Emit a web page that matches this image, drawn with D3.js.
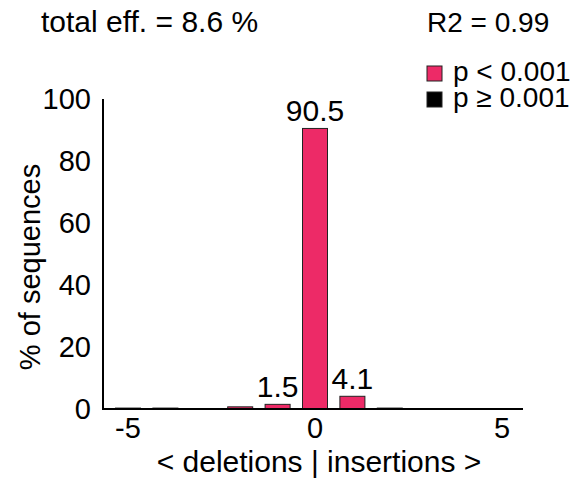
<!DOCTYPE html>
<html>
<head>
<meta charset="utf-8">
<script src="https://cdn.jsdelivr.net/npm/d3@7"></script>
<style>
  body { margin: 0; background: #fff; }
  text { font-family: "Liberation Sans", Arial, sans-serif; fill: #000; }
</style>
</head>
<body>
<div id="chart"></div>
<script>
// indel sizes and % of sequences
var sizes = [-5, -4, -3, -2, -1, 0, 1, 2, 3, 4, 5];
var values = [0.3, 0.3, 0, 0.7, 1.5, 90.5, 4.1, 0.3, 0, 0, 0];
var significant = [false, false, false, true, true, true, true, false, false, false, false];
var x_ticks = [-5, 0, 5];
var y_ticks = [0, 20, 40, 60, 80, 100];

var chart_width = 579;
var chart_height = 483;
var pink = '#ED2A67';

var bars = sizes.map(function(s, i) {
  return {size: s, value: values[i], sig: significant[i]};
}).filter(function(d) { return d.value > 0; });

var svg = d3.select('#chart')
  .append('svg')
  .attr('width', chart_width)
  .attr('height', chart_height);

var x_scale = d3.scaleLinear()
  .domain([-5, 5])
  .range([128, 502]);

var y_scale = d3.scaleLinear()
  .domain([0, 100])
  .range([409, 99]);

var bar_w = 25;

// bars
svg.selectAll('rect.bar')
  .data(bars)
  .enter()
  .append('rect')
  .attr('class', 'bar')
  .attr('x', function(d) { return x_scale(d.size) - bar_w / 2; })
  .attr('y', function(d) { return y_scale(d.value); })
  .attr('width', bar_w)
  .attr('height', function(d) { return y_scale(0) - y_scale(d.value); })
  .attr('fill', function(d) { return d.sig ? pink : '#000'; })
  .attr('stroke', '#222')
  .attr('stroke-width', 1);

// value labels for bars above 1 %
svg.selectAll('text.val')
  .data(bars.filter(function(d) { return d.value > 1; }))
  .enter()
  .append('text')
  .attr('class', 'val')
  .text(function(d) { return d.value; })
  .attr('x', function(d) { return x_scale(d.size); })
  .attr('y', function(d) { return y_scale(d.value) - 7; })
  .attr('text-anchor', 'middle')
  .attr('font-size', 30);

// axes lines (no ticks)
svg.append('line')
  .attr('x1', 103).attr('x2', 103)
  .attr('y1', y_scale(100)).attr('y2', y_scale(0) + 1)
  .attr('stroke', '#000').attr('stroke-width', 2);
svg.append('line')
  .attr('x1', 102).attr('x2', 523)
  .attr('y1', y_scale(0)).attr('y2', y_scale(0))
  .attr('stroke', '#000').attr('stroke-width', 2);

// tick labels
svg.selectAll('text.ytick')
  .data(y_ticks)
  .enter()
  .append('text')
  .attr('class', 'ytick')
  .text(function(d) { return d; })
  .attr('x', 91)
  .attr('y', function(d) { return y_scale(d) + 10; })
  .attr('text-anchor', 'end')
  .attr('font-size', 29);

svg.selectAll('text.xtick')
  .data(x_ticks)
  .enter()
  .append('text')
  .attr('class', 'xtick')
  .text(function(d) { return d; })
  .attr('x', function(d) { return x_scale(d); })
  .attr('y', 438)
  .attr('text-anchor', 'middle')
  .attr('font-size', 29);

// axis titles
svg.append('text')
  .text('< deletions | insertions >')
  .attr('x', 319).attr('y', 472)
  .attr('text-anchor', 'middle')
  .attr('font-size', 30);

svg.append('text')
  .text('% of sequences')
  .attr('transform', 'translate(40,267) rotate(-90)')
  .attr('text-anchor', 'middle')
  .attr('font-size', 29);

// header
svg.append('text')
  .text('total eff. = 8.6 %')
  .attr('x', 41).attr('y', 32)
  .attr('font-size', 30);
svg.append('text')
  .text('R2 = 0.99')
  .attr('x', 427).attr('y', 32)
  .attr('font-size', 28);

// legend
var legend = [{label: 'p < 0.001', color: pink}, {label: 'p \u2265 0.001', color: '#000'}];
var lg = svg.selectAll('g.legend')
  .data(legend)
  .enter()
  .append('g')
  .attr('class', 'legend')
  .attr('transform', function(d, i) { return 'translate(427,' + (66 + i * 26) + ')'; });
lg.append('rect')
  .attr('width', 15).attr('height', 15)
  .attr('fill', function(d) { return d.color; })
  .attr('stroke', '#222').attr('stroke-width', 1);
lg.append('text')
  .text(function(d) { return d.label; })
  .attr('x', 26).attr('y', 15)
  .attr('font-size', 28);
</script>
</body>
</html>
